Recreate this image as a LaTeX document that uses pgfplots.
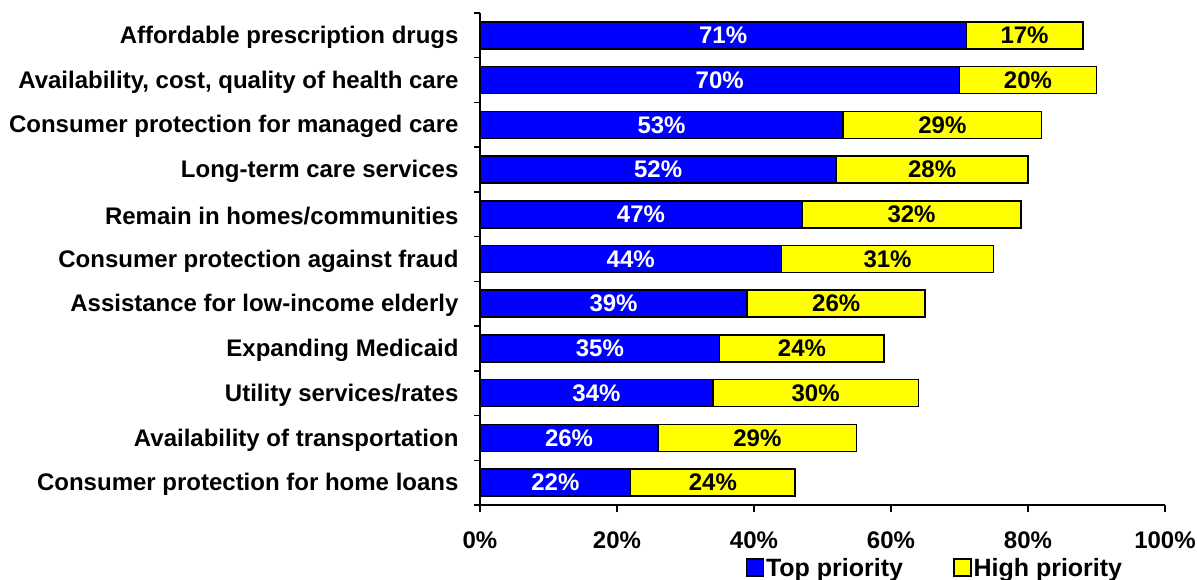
\documentclass[border=0pt]{standalone}
\usepackage{fontspec}
\setmainfont{Liberation Sans}
\usepackage{pgfplots}
\pgfplotsset{compat=1.18}
\definecolor{topblue}{RGB}{0,0,255}
\definecolor{highyel}{RGB}{255,255,0}

\begin{document}
\begin{tikzpicture}
\begin{axis}[
    xbar stacked,
    scale only axis,
    width=685pt, height=492pt,
    xmin=0, xmax=100,
    ymin=-0.5, ymax=10.5,
    y dir=reverse,
    bar width=27pt,
    axis lines*=left,
    axis line style={line width=1.5pt},
    tick align=outside,
    major tick length=7pt,
    minor tick length=6pt,
    xtick={0,20,...,100},
    xticklabel={\pgfmathprintnumber{\tick}\%},
    x tick style={line width=1.5pt, black},
    ytick={0,...,10},
    minor ytick={-0.5,0.5,...,10.5},
    major y tick style={draw=none},
    minor y tick style={line width=1.5pt, black},
    yticklabels={
        Affordable prescription drugs,
        {Availability, cost, quality of health care},
        Consumer protection for managed care,
        Long-term care services,
        Remain in homes/communities,
        Consumer protection against fraud,
        Assistance for low-income elderly,
        Expanding Medicaid,
        Utility services/rates,
        Availability of transportation,
        Consumer protection for home loans},
    ticklabel style={font=\fontsize{24}{27}\selectfont\bfseries},
    yticklabel style={xshift=-11pt, yshift=-2pt},
    xticklabel style={yshift=-16pt},
    /pgf/number format/assume math mode=true,
    nodes near coords={\pgfmathprintnumber{\pgfplotspointmeta}\%},
    every node near coord/.append style={anchor=center,
        font=\fontsize{24}{27}\selectfont\bfseries},
    legend style={at={(0.664,-0.128)}, anchor=center, draw=none,
        legend columns=2, font=\fontsize{25}{28}\selectfont\bfseries,
        /tikz/every even column/.append style={column sep=48pt}},
    legend image code/.code={\draw[#1, line width=1.5pt] (0pt,-8pt) rectangle (17pt,9pt);},
]
\addplot[fill=topblue, draw=black, line width=1.5pt,
    every node near coord/.append style={text=white}] coordinates {
    (71,0) (70,1) (53,2) (52,3) (47,4) (44,5) (39,6) (35,7) (34,8) (26,9) (22,10)
};
\addlegendentry{Top priority}
\addplot[fill=highyel, draw=black, line width=1.5pt,
    every node near coord/.append style={text=black}] coordinates {
    (17,0) (20,1) (29,2) (28,3) (32,4) (31,5) (26,6) (24,7) (30,8) (29,9) (24,10)
};
\addlegendentry{High priority}
\end{axis}
\pgfresetboundingbox
\path[use as bounding box] (-480pt,-75pt) rectangle (717pt,505pt);
\end{tikzpicture}
\end{document}
